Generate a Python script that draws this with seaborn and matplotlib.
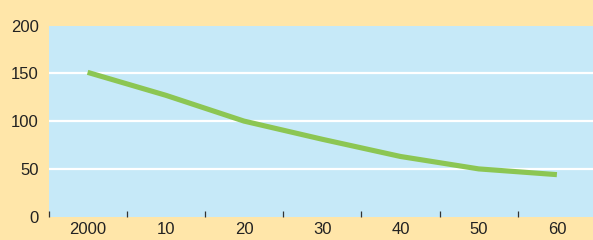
import numpy as np
import pandas as pd
import matplotlib.pyplot as plt
import seaborn as sns

# data
years = ["2000", "10", "20", "30", "40", "50", "60"]
values = [151, 127, 100, 81, 63, 50, 44]
y_ticks = [0, 50, 100, 150, 200]

df = pd.DataFrame({"pos": np.arange(len(years)), "value": values})

sns.set_style("white")
plt.rcParams["font.family"] = ["Liberation Sans", "DejaVu Sans"]

W, H = 593, 240
fig = plt.figure(figsize=(W / 100, H / 100), dpi=100)
fig.patch.set_facecolor("#FFE6A9")

left, right, top, bottom = 48.5, 596, 25.5, 216.7
ax = fig.add_axes([left / W, (H - bottom) / H, (right - left) / W, (bottom - top) / H])
ax.set_facecolor("#C6E9F8")

sns.lineplot(data=df, x="pos", y="value", color="#8CC653", linewidth=3.7, ax=ax,
             solid_capstyle="butt")

ax.set_xlim(-0.5, len(years) - 0.5)
ax.set_ylim(0, 200)

# white grid lines at 50/100/150
for v in y_ticks[1:-1]:
    ax.axhline(v, color="white", linewidth=1.6, zorder=1)

ax.set_yticks(y_ticks)
ax.set_yticklabels([str(v) for v in y_ticks])
ax.set_xticks(df["pos"])
ax.set_xticklabels(years)
ax.set_xticks(np.arange(len(years)) - 0.5, minor=True)

ax.tick_params(axis="x", which="major", bottom=True, length=0, pad=4, labelsize=12,
               labelcolor="#222222")
ax.tick_params(axis="x", which="minor", bottom=True, direction="in", length=4,
               width=0.9, color="#333333")
ax.tick_params(axis="y", left=True, length=0, pad=7, labelsize=12, labelcolor="#222222")

for s in ax.spines.values():
    s.set_visible(False)

ax.set_xlabel("")
ax.set_ylabel("")

fig.savefig("out.png", dpi=100, facecolor=fig.get_facecolor())
